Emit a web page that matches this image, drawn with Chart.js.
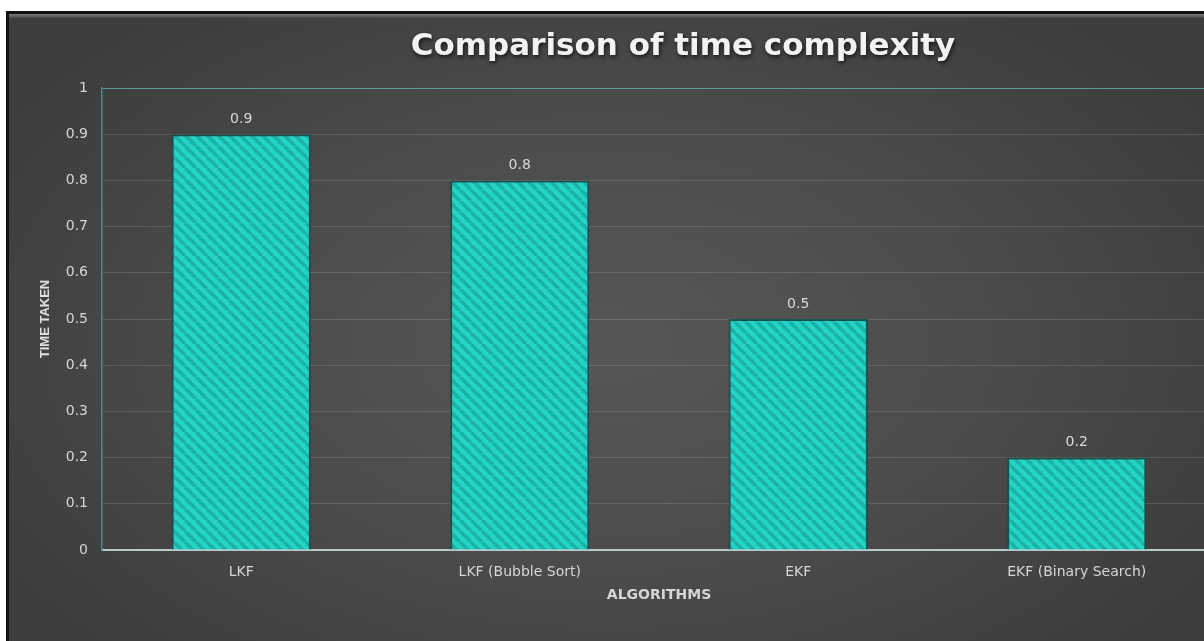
<!DOCTYPE html>
<html>
<head>
<meta charset="utf-8">
<script src="https://cdn.jsdelivr.net/npm/chart.js@4.4.1/dist/chart.umd.min.js"></script>
<style>
    html, body { margin: 0; padding: 0; background: #ffffff; overflow: hidden; width: 1204px; height: 641px; }
    #frame {
        position: absolute; left: 6px; top: 11px; width: 1400px; height: 640px;
        border-left: 3px solid #111; border-top: 3px solid #111;
        background: radial-gradient(ellipse 700px 420px at 600px 330px, #575757 0%, #4b4b4b 55%, #3d3d3d 100%);
    }
    #frame:before {
        content: ''; position: absolute; left: 0; top: 0; width: 100%; height: 4px;
        background: linear-gradient(#7a7a7a, #4a4a4a);
    }
    #wrap { position: absolute; left: 0; top: 0; width: 1215px; height: 627px; }
</style>
</head>
<body>
<div id="frame"><div id="wrap"><canvas id="timeChart"></canvas></div></div>
<script>
// data
const categories = ['LKF', 'LKF (Bubble Sort)', 'EKF', 'EKF (Binary Search)'];
const timeTaken = [0.9, 0.8, 0.5, 0.2];
const yTicks = [0, 0.1, 0.2, 0.3, 0.4, 0.5, 0.6, 0.7, 0.8, 0.9, 1];
const chartTitle = 'Comparison of time complexity';
const xTitle = 'ALGORITHMS';
const yTitle = 'TIME TAKEN';

document.addEventListener('DOMContentLoaded', () => {
    initTimeChart();
});

function makeStripes() {
    const c = document.createElement('canvas');
    c.width = 11; c.height = 11;
    const g = c.getContext('2d');
    g.fillStyle = '#24d4c6';
    g.fillRect(0, 0, 11, 11);
    g.strokeStyle = '#1ab2a7';
    g.lineWidth = 3.5;
    [-11, 0, 11].forEach(x0 => {
        g.beginPath();
        g.moveTo(x0, 0);
        g.lineTo(x0 + 11, 11);
        g.stroke();
    });
    return g.createPattern(c, 'repeat');
}

// title with shadow, drawn on top
const titlePlugin = {
    id: 'titleShadow',
    afterDraw(chart) {
        const ctx = chart.ctx;
        ctx.save();
        ctx.font = "bold 31px 'DejaVu Sans', sans-serif";
        ctx.textAlign = 'center';
        ctx.textBaseline = 'middle';
        ctx.shadowColor = 'rgba(0,0,0,0.7)';
        ctx.shadowBlur = 4;
        ctx.shadowOffsetX = 1;
        ctx.shadowOffsetY = 2;
        ctx.fillStyle = '#f2f2f2';
        ctx.fillText(chartTitle, 674, 33);
        ctx.restore();
    }
};

// values above the bars
const valueLabels = {
    id: 'valueLabels',
    afterDatasetsDraw(chart) {
        const ctx = chart.ctx;
        const meta = chart.getDatasetMeta(0);
        ctx.save();
        ctx.font = "14px 'DejaVu Sans', sans-serif";
        ctx.fillStyle = '#d9d9d9';
        ctx.textAlign = 'center';
        ctx.textBaseline = 'bottom';
        meta.data.forEach((bar, i) => {
            ctx.fillText(String(timeTaken[i]), bar.x, bar.y - 8);
        });
        ctx.restore();
    }
};

function initTimeChart() {
    const ctx = document.getElementById('timeChart');

    new Chart(ctx, {
        type: 'bar',
        data: {
            labels: categories,
            datasets: [{
                label: yTitle,
                data: timeTaken,
                backgroundColor: makeStripes(),
                borderColor: 'rgba(14, 84, 80, 0.85)',
                borderWidth: 2,
                borderSkipped: 'bottom',
                categoryPercentage: 1,
                barPercentage: 0.5
            }]
        },
        options: {
            responsive: true,
            maintainAspectRatio: false,
            animation: false,
            layout: { padding: { top: 74, right: 8, left: 0, bottom: 0 } },
            plugins: {
                legend: { display: false },
                tooltip: { enabled: false },
                title: { display: false }
            },
            scales: {
                x: {
                    afterFit: s => { s.height = 91; },
                    grid: { display: false, drawTicks: false },
                    border: { display: true, color: '#b4cccb', width: 2 },
                    ticks: { color: '#d6d6d6', padding: 14, font: { family: "'DejaVu Sans', sans-serif", size: 14 } },
                    title: {
                        display: true, text: xTitle, color: '#d6d6d6',
                        font: { family: "'DejaVu Sans', sans-serif", size: 14, weight: 'bold' },
                        padding: { top: 0, bottom: 37 }
                    }
                },
                y: {
                    min: 0, max: 1,
                    afterFit: s => { s.width = 93; },
                    afterBuildTicks: s => { s.ticks = yTicks.map(v => ({ value: v })); },
                    grid: {
                        drawTicks: false,
                        color: c => (c.tick && c.tick.value === 1) ? '#5e9d95' : 'rgba(255,255,255,0.13)',
                        lineWidth: 1
                    },
                    border: { display: true, color: '#4e8a82', width: 1.5 },
                    ticks: {
                        color: '#d6d6d6', padding: 14,
                        font: { family: "'DejaVu Sans', sans-serif", size: 14 },
                        callback: v => String(Math.round(v * 10) / 10)
                    },
                    title: {
                        display: true, text: yTitle, color: '#e0e0e0',
                        font: { family: "'Liberation Sans Narrow', 'Liberation Sans', sans-serif", size: 13, weight: 'bold' },
                        padding: { top: 29, bottom: 0 }
                    }
                }
            }
        },
        plugins: [valueLabels, titlePlugin]
    });
}
</script>
</body>
</html>
